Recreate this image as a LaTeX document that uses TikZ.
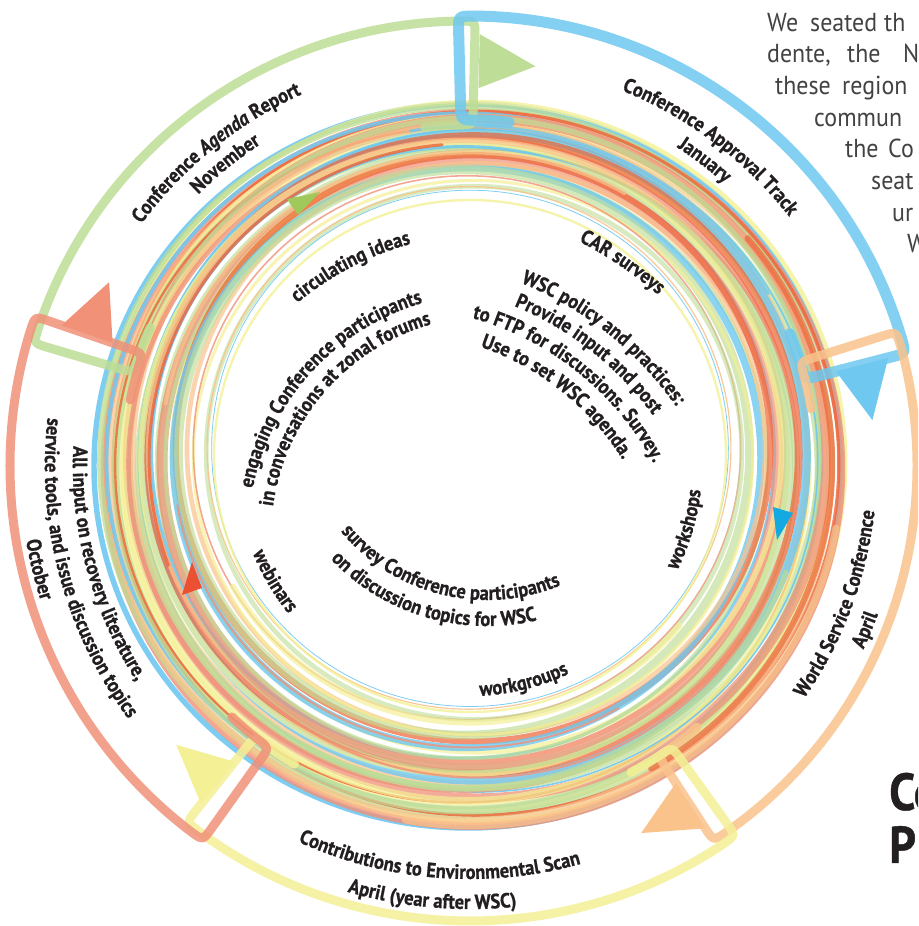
\documentclass[tikz,border=0pt]{standalone}
\usepackage{fontspec}
\setmainfont{PT Sans}
\newfontfamily\lblfam[FakeStretch=0.9,BoldFeatures={FakeBold=0.8},BoldItalicFeatures={FakeBold=0.8}]{PT Sans}
\newfontfamily\bodyfam[FakeStretch=0.92]{PT Sans}
\usetikzlibrary{decorations.text}
\definecolor{tgreen}{RGB}{190,221,150}
\definecolor{tblue}{RGB}{110,200,240}
\definecolor{torange}{RGB}{250,195,140}
\definecolor{tyellow}{RGB}{244,240,150}
\definecolor{tsalmon}{RGB}{240,145,120}
\definecolor{tred}{RGB}{238,100,55}
\definecolor{ink}{RGB}{35,31,32}
\definecolor{agreen}{RGB}{160,200,90}
\definecolor{ablue}{RGB}{20,170,225}
\definecolor{ared}{RGB}{235,80,50}
\newcommand\lbl{\fontsize{20.5}{22}\selectfont\lblfam\bfseries\color{ink}}
\newcommand\cwtext[5]{%
  \begin{scope}[shift={(#1,#2)}]
  \path[decorate,decoration={text along path,text align=center,text={#5}}]
    ({#4+85}:#3pt) arc[start angle=#4+85,end angle=#4-85,radius=#3pt];
  \end{scope}}
\newcommand\ccwtext[5]{%
  \begin{scope}[shift={(#1,#2)}]
  \path[decorate,decoration={text along path,text align=center,text={#5}}]
    ({#4-85}:#3pt) arc[start angle=#4-85,end angle=#4+85,radius=#3pt];
  \end{scope}}
% color, width, start angle, end angle, outer radius, opacity
\newcommand\drawtab[6]{%
  \pgfmathsetmacro\tabRi{#5-15}%
  \pgfmathsetmacro\tabDa{15/#5*57.3}%
  \draw[#1,line width=#2pt,opacity=#6,line cap=round,line join=round]
    ({#3-8}:346pt) arc[start angle=#3-8,end angle=#3-2.5,radius=346pt]
    .. controls (#3:346pt) .. (#3:361pt) -- (#3:\tabRi pt)
    .. controls (#3:#5pt) .. ({#3-\tabDa}:#5pt)
    arc[start angle=#3-\tabDa,end angle=#4+\tabDa,radius=#5pt]
    .. controls (#4:#5pt) .. (#4:\tabRi pt) -- (#4:361pt)
    .. controls (#4:346pt) .. ({#4+2.5}:346pt)
    arc[start angle=#4+2.5,end angle=#4+8,radius=346pt];}
\newcommand\drawhead[2]{\fill[#1] (#2:378pt) -- (#2:432pt) -- ({#2-8}:405pt) -- cycle;}
\newcommand\partarc[6]{%
  \draw[#1,line width=#2pt,opacity=#6,line cap=round]
    ({(256+118*#3)*cos(#4)},{18-18*#3+(256+106*#3)*sin(#4)})
    arc[start angle=#4,end angle=#5,x radius={256pt+118pt*#3},y radius={256pt+106pt*#3}];}
\tikzset{
  body/.style={font=\bodyfam\fontsize{26}{30}\selectfont,text=ink!85,inner sep=0pt,anchor=base west},
  bigtxt/.style={font=\lblfam\bfseries\fontsize{52}{56}\selectfont,text=ink,inner sep=0pt,anchor=base west}
}
\begin{document}
\begin{tikzpicture}[x=1pt,y=1pt]
\useasboundingbox (0,0) rectangle (918,926);
\clip (0,0) rectangle (918,926);
\fill[white] (0,0) rectangle (918,926);
\begin{scope}[shift={(470,460)}]
% ring bundle
\foreach \t/\c/\w/\dx/\dy/\o in {
1.00/tblue/7/-2/0/0.9, 0.975/tyellow/6/4/4/0.8, 0.955/tsalmon/9/3/-4/0.8,
0.93/tgreen/8/-4/4/0.75, 0.905/tred/4/6/1/0.8, 0.885/torange/10/0/-7/0.7,
0.86/tblue/5/-6/3/0.85, 0.835/tyellow/12/3/0/0.7, 0.81/tgreen/10/-3/-6/0.7,
0.79/tsalmon/12/7/4/0.75, 0.77/tred/3/-8/-3/0.8, 0.75/tgreen/7/4/8/0.7,
0.73/tyellow/9/-4/-6/0.7, 0.71/tblue/2/8/0/0.9, 0.69/torange/8/0/6/0.7,
0.665/tsalmon/6/-7/-4/0.75, 0.64/tblue/11/5/3/0.8, 0.615/tgreen/9/-3/-8/0.7,
0.59/tred/10/3/4/0.7, 0.565/tyellow/8/-6/0/0.7, 0.545/tsalmon/3/8/-6/0.8,
0.52/torange/7/-4/6/0.7, 0.495/tgreen/12/4/-3/0.65, 0.47/tblue/4/-7/4/0.85,
0.44/tsalmon/14/0/-6/0.7, 0.41/tyellow/7/7/3/0.7, 0.38/tgreen/5/-4/-7/0.7,
0.35/tred/8/3/6/0.7, 0.32/tblue/9/-3/-4/0.8, 0.28/torange/6/6/4/0.7,
0.25/tgreen/11/-6/0/0.65, 0.20/tyellow/4/3/-6/0.7, 0.15/tsalmon/2/-3/3/0.8,
0.10/tgreen/6/4/-3/0.6, 0.05/torange/1.5/-1/1/0.9, 0.02/tblue/1/0/0/0.9,
0.00/tyellow/3/0/-8/0.8}{
  \pgfmathsetmacro\ww{0.78*\w}
  \draw[color=\c,line width=\ww pt,opacity=\o]
    ({\dx},{18-18*\t+\dy}) ellipse[x radius={256pt+118pt*\t},y radius={256pt+106pt*\t}];
}
\partarc{tred}{3}{0.55}{95}{200}{0.8}
\partarc{torange}{4}{0.45}{60}{170}{0.7}
\partarc{tsalmon}{2}{0.35}{190}{300}{0.8}
\partarc{tgreen}{5}{0.68}{-120}{-20}{0.7}
\partarc{tyellow}{6}{0.15}{-150}{-40}{0.7}
\partarc{tred}{6}{0.9}{-60}{40}{0.7}
\partarc{tblue}{3}{0.75}{30}{100}{0.8}
\partarc{torange}{7}{0.98}{-100}{-10}{0.7}
% outer tabs
\begin{scope}[shift={(-5,-5)}]
\drawtab{tgreen}{9}{163.5}{88.7}{450}{0.85}
\end{scope}
\drawtab{tblue}{11}{91.5}{14.5}{450}{0.85}
\drawtab{torange}{9}{17.5}{-57}{447}{0.85}
\drawtab{tyellow}{9}{-54.3}{-128.5}{455}{0.85}
\drawtab{tsalmon}{9}{-125.5}{-199}{460}{0.85}
\drawhead{tgreen}{88.7}
\drawhead{tblue}{14.5}
\drawhead{torange}{-57}
\drawhead{tyellow}{-128.5}
\drawhead{tsalmon}{161}
% outer labels
\cwtext{0}{0}{408}{129}{|\lbl|Conference |\lbl\itshape|Agenda|\lbl| Report}
\cwtext{0}{0}{384}{129}{|\lbl|November}
\cwtext{0}{0}{405}{53}{|\lbl|Conference Approval Track}
\cwtext{0}{0}{380}{52.5}{|\lbl|January}
\ccwtext{0}{0}{407}{-20.6}{|\lbl|World Service Conference}
\ccwtext{0}{0}{434}{-22.5}{|\lbl|April}
\ccwtext{0}{0}{413}{-94.5}{|\lbl|Contributions to Environmental Scan}
\ccwtext{0}{0}{443}{-95}{|\lbl|April (year after WSC)}
\ccwtext{0}{0}{397}{195}{|\lbl|All input on recovery literature,}
\ccwtext{0}{0}{425}{195}{|\lbl|service tools, and issue discussion topics}
\ccwtext{0}{0}{450}{193.5}{|\lbl|October}
% inner labels
\cwtext{21}{-70}{303}{117.5}{|\lbl|circulating ideas}
\cwtext{21}{-70}{243}{137.5}{|\lbl|engaging Conference participants}
\cwtext{21}{-70}{220}{139}{|\lbl|in conversations at zonal forums}
\cwtext{-78}{-138}{408}{56}{|\lbl|CAR surveys}
\cwtext{-78}{-138}{346}{51.5}{|\lbl|WSC policy and practices:}
\cwtext{-78}{-138}{322}{51.8}{|\lbl|Provide input and post}
\cwtext{-78}{-138}{297}{51.3}{|\lbl|to FTP for discussions. Survey.}
\cwtext{-78}{-138}{272}{51.5}{|\lbl|Use to set WSC agenda.}
\ccwtext{17}{56}{190}{-103.7}{|\lbl|survey Conference participants}
\ccwtext{17}{56}{216}{-106.5}{|\lbl|on discussion topics for WSC}
\ccwtext{0}{0}{234}{210.5}{|\lbl|webinars}
\ccwtext{0}{0}{230}{-76}{|\lbl|workgroups}
\ccwtext{0}{0}{232}{-16.4}{|\lbl|workshops}
\end{scope}
% inner arrowheads
\fill[agreen] (287,727) -- (298,711) -- (320,734) -- cycle;
\fill[ared] (182,331) -- (202,338) -- (192,364) -- cycle;
\fill[ablue] (773,419) -- (793,413) -- (777,386) -- cycle;
% body text top right
\node[body] (b1) at (767,894) {We};
\node[body] (b2) at (810,894) {seated};
\node[body] (b3) at (884,894) {th};
\node[body] (b4) at (767,863) {dente,};
\node[body] (b5) at (847,863) {the};
\node[body] (b6) at (903,863) {N};
\node[body] (b7) at (775,831) {these};
\node[body] (b8) at (842,831) {region};
\node[body] (b9) at (814,799) {commun};
\node[body] (b10) at (845,768) {the};
\node[body] (b11) at (888,768) {Co};
\node[body] (b12) at (871,736) {seat};
\node[body] (b13) at (892,704) {ur};
\node[body] (b14) at (907,673) {W};
\node[bigtxt] (t1) at (889,116) {Co};
\node[bigtxt] (t2) at (889,63) {Pl};
\end{tikzpicture}
\end{document}
